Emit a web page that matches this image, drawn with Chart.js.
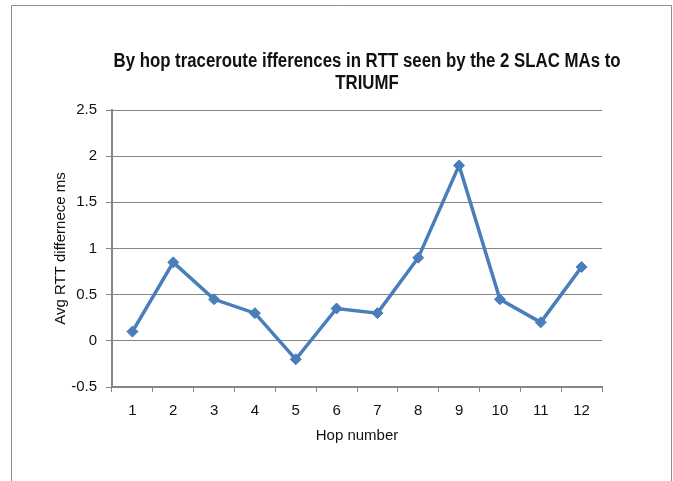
<!DOCTYPE html>
<html>
<head>
<meta charset="utf-8">
<script src="https://cdn.jsdelivr.net/npm/chart.js@4/dist/chart.umd.min.js"></script>
<style>
html,body{margin:0;padding:0;background:#fff;}
#wrap{width:673px;height:481px;position:relative;}
</style>
</head>
<body>
<div id="wrap"><canvas id="c" width="673" height="481"></canvas></div>
<script>
const hops = ['1','2','3','4','5','6','7','8','9','10','11','12'];
const rttDiff = [0.1, 0.85, 0.45, 0.3, -0.2, 0.35, 0.3, 0.9, 1.9, 0.45, 0.2, 0.8];
const titleLines = ['By hop traceroute ifferences in RTT seen by the 2 SLAC MAs to', 'TRIUMF'];
const yTitle = 'Avg RTT differnece ms';
const xTitle = 'Hop number';
const yMin = -0.5, yMax = 2.5, yStep = 0.5;

const FONT = '"Liberation Sans", Arial, sans-serif';
const AXIS = '#868686';
const BLUE = '#4a7ebb';

const framePlugin = {
  id: 'frame',
  beforeDraw(chart) {
    const ctx = chart.ctx;
    ctx.save();
    ctx.fillStyle = '#fff';
    ctx.fillRect(0, 0, chart.width, chart.height);
    ctx.strokeStyle = '#8c8c8c';
    ctx.lineWidth = 1;
    ctx.beginPath();
    ctx.moveTo(11.5, 490);
    ctx.lineTo(11.5, 5.5);
    ctx.lineTo(671.5, 5.5);
    ctx.lineTo(671.5, 490);
    ctx.stroke();
    ctx.restore();
  }
};

const titlePlugin = {
  id: 'customTitle',
  afterDraw(chart) {
    const ctx = chart.ctx;
    ctx.save();
    ctx.fillStyle = '#111';
    ctx.font = 'bold 20px ' + FONT;
    ctx.textAlign = 'center';
    ctx.textBaseline = 'alphabetic';
    const w = ctx.measureText(titleLines[0]).width;
    const sx = 507 / w;
    ctx.translate(367, 0);
    ctx.scale(sx, 1);
    ctx.fillText(titleLines[0], 0, 67);
    ctx.fillText(titleLines[1], 0, 89);
    ctx.restore();
  }
};

new Chart(document.getElementById('c'), {
  type: 'line',
  data: {
    labels: hops,
    datasets: [{
      data: rttDiff,
      borderColor: BLUE,
      backgroundColor: BLUE,
      borderWidth: 3.5,
      pointStyle: 'rectRot',
      pointRadius: 5.5,
      pointBackgroundColor: BLUE,
      pointBorderColor: BLUE,
      pointBorderWidth: 1,
      tension: 0,
      fill: false
    }]
  },
  options: {
    responsive: false,
    animation: false,
    devicePixelRatio: 1,
    layout: { padding: { left: 0, top: 110, right: 71, bottom: 0 } },
    plugins: { legend: { display: false }, title: { display: false }, tooltip: { enabled: false } },
    scales: {
      x: {
        type: 'category',
        offset: true,
        afterFit(scale) { scale.height = 94; },
        grid: { display: true, drawOnChartArea: false, drawTicks: true, tickLength: 5, offset: true, color: AXIS, lineWidth: 1 },
        border: { display: true, color: AXIS, width: 2 },
        ticks: { color: '#111', font: { family: FONT, size: 15 }, padding: 10, maxRotation: 0 },
        title: { display: true, text: xTitle, color: '#111', font: { family: FONT, size: 15 }, padding: { top: 0, bottom: 36 } }
      },
      y: {
        min: yMin,
        max: yMax,
        afterFit(scale) { scale.width = 112; },
        afterBuildTicks(scale) {
          const t = [];
          for (let v = yMin; v <= yMax + 1e-9; v += yStep) t.push({ value: Math.round(v * 10) / 10 });
          scale.ticks = t;
        },
        grid: { color: AXIS, lineWidth: 1, drawTicks: true, tickLength: 6 },
        border: { display: true, color: AXIS, width: 2 },
        ticks: { color: '#111', font: { family: FONT, size: 15 }, padding: 9, callback: v => String(v) },
        title: { display: true, text: yTitle, color: '#111', font: { family: FONT, size: 15 }, padding: { top: 52, bottom: 0 } }
      }
    }
  },
  plugins: [framePlugin, titlePlugin]
});
</script>
</body>
</html>
